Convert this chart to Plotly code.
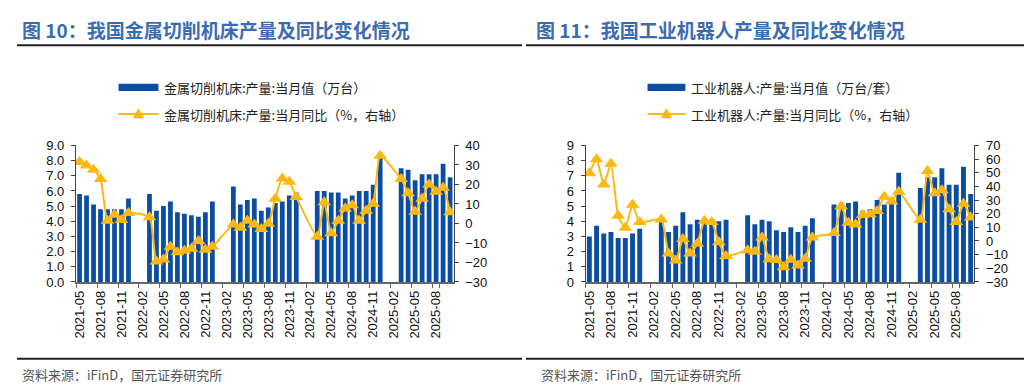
import plotly.graph_objects as go

# ---------------- data ----------------
months = []
for yr in range(2021, 2026):
    for m in range(1, 13):
        if (yr == 2021 and m < 5) or (yr == 2025 and m > 10):
            continue
        months.append(f"{yr}-{m:02d}")

tick_labels = [f"{y}-{m}" for y in range(2021, 2026) for m in ("02", "05", "08", "11")
               if "2021-05" <= f"{y}-{m}" <= "2025-08"]

N = None
machine_output = [5.8, 5.7, 5.1, 4.8, 4.8, 4.8, 4.8, 5.5,
                  N, N, 5.8, 4.7, 5.0, 5.3, 4.6, 4.5, 4.4, 4.3, 4.6, 5.3,
                  N, N, 6.3, 5.1, 5.4, 5.5, 4.7, 4.9, 5.2, 5.3, 5.7, 5.9,
                  N, N, 6.0, 6.0, 5.9, 5.9, 5.5, 5.7, 6.0, 6.0, 6.4, 8.2,
                  N, N, 7.5, 7.4, 6.7, 7.1, 7.1, 7.1, 7.8, 6.9]
machine_yoy = [31.5, 29.7, 27.5, 22.8, 1.4, 4.4, 1.7, 5.4,
               N, N, 3.2, -19.5, -18.5, -12.0, -14.8, -14.0, -13.0, -9.0, -13.5, -12.0,
               N, N, -0.6, -2.2, 1.4, -0.6, -2.8, -0.2, 12.6, 23.1, 21.4, 13.6,
               N, N, -6.8, 10.9, -5.0, 1.4, 7.7, 9.3, 1.4, 6.5, 10.1, 34.7,
               N, N, 22.8, 15.5, 6.0, 12.6, 20.0, 16.2, 18.3, 5.7]
robot_output = [3.0, 3.7, 3.2, 3.3, 2.9, 2.9, 3.2, 3.5,
                N, N, 4.2, 3.3, 3.7, 4.6, 3.8, 4.1, 4.0, 3.9, 4.0, 4.1,
                N, N, 4.4, 3.8, 4.1, 4.0, 3.4, 3.3, 3.6, 3.3, 3.7, 4.2,
                N, N, 5.1, 5.0, 5.2, 5.3, 4.7, 4.8, 5.4, 5.1, 5.3, 7.2,
                N, N, 6.2, 6.9, 6.9, 7.5, 6.4, 6.4, 7.6, 5.8]
robot_yoy = [49.6, 59.9, 41.4, 56.6, 18.4, 9.7, 26.6, 13.9,
             N, N, 15.8, -9.1, -14.3, 1.5, -9.1, -2.1, 14.8, 13.9, -0.9, -11.0,
             N, N, -6.8, -7.9, 2.6, -13.3, -14.0, -19.2, -13.8, -18.0, -13.1, 2.6,
             N, N, 5.9, 25.4, 13.4, 12.0, 19.1, 19.5, 21.9, 32.4, 28.9, 36.0,
             N, N, 15.5, 51.2, 35.0, 37.1, 23.3, 13.9, 27.3, 17.2]

titles = ["图 10：我国金属切削机床产量及同比变化情况", "图 11：我国工业机器人产量及同比变化情况"]
legend_bar = ["金属切削机床:产量:当月值（万台）", "工业机器人:产量:当月值（万台/套）"]
legend_line = ["金属切削机床:产量:当月同比（%，右轴）", "工业机器人:产量:当月同比（%，右轴）"]
source = "资料来源：iFinD，国元证券研究所"

# ---------------- style ----------------
W, H = 1032, 387
BAR = "#0B4DA5"
GOLD = "#FDB913"
TITLE_C = "#3B6CB2"
FONT = "Arial, Liberation Sans, sans-serif"
CJK = "Noto Sans CJK SC"

def px(x):
    return x / W

def py(y):
    return 1 - y / H

fig = go.Figure()

fig.add_trace(go.Bar(x=months, y=machine_output, marker_color=BAR, marker_line_width=0,
                     xaxis="x", yaxis="y", showlegend=False))
fig.add_trace(go.Scatter(x=months, y=machine_yoy, mode="lines+markers", connectgaps=True,
                         line=dict(color=GOLD, width=2, shape="spline", smoothing=0.5),
                         marker=dict(symbol="triangle-up", size=12, color=GOLD),
                         xaxis="x", yaxis="y2", showlegend=False))
fig.add_trace(go.Bar(x=months, y=robot_output, marker_color=BAR, marker_line_width=0,
                     xaxis="x2", yaxis="y3", showlegend=False))
fig.add_trace(go.Scatter(x=months, y=robot_yoy, mode="lines+markers", connectgaps=True,
                         line=dict(color=GOLD, width=2, shape="spline", smoothing=0.5),
                         marker=dict(symbol="triangle-up", size=12, color=GOLD),
                         xaxis="x2", yaxis="y4", showlegend=False))

ydom = [py(277.7), py(135.7)]
tickfont = dict(family=FONT, size=13, color="#111111")

def xax(dom, anchor):
    return dict(domain=dom, anchor=anchor, type="category", categoryorder="array",
                categoryarray=months, range=[-0.5, len(months) - 0.5],
                tickmode="array", tickvals=tick_labels, ticktext=tick_labels,
                tickangle=-90, tickson="boundaries", ticks="outside", ticklen=4,
                tickcolor="#666666", showline=True, linecolor="#666666", linewidth=1.5,
                showgrid=False, zeroline=False, tickfont=tickfont, ticklabelstandoff=2)

def yax(anchor, rng, dtick, fmt, side="left", overlay=None):
    d = dict(anchor=anchor, range=rng, dtick=dtick, tick0=rng[0], tickformat=fmt, side=side,
             ticks="outside", ticklen=4, tickcolor="#444444", showline=True,
             linecolor="#444444", linewidth=1.2, showgrid=False, zeroline=False,
             tickfont=tickfont, ticklabelstandoff=4)
    if overlay:
        d["overlaying"] = overlay
    else:
        d["domain"] = ydom
    return d

fig.update_layout(
    width=W, height=H, autosize=False,
    margin=dict(l=0, r=0, t=0, b=0),
    paper_bgcolor="white", plot_bgcolor="white",
    bargap=0.32,
    xaxis=xax([px(64.3), px(443.3)], "y"),
    yaxis=yax("x", [0, 9], 1, ".1f"),
    yaxis2=yax("x", [-30, 40], 10, "d", side="right", overlay="y"),
    xaxis2=xax([px(576), px(966)], "y3"),
    yaxis3=yax("x2", [0, 9], 1, "d"),
    yaxis4=yax("x2", [-30, 70], 10, "d", side="right", overlay="y3"),
)

shapes = []
annotations = []
for i, off in enumerate([0, 516]):
    # title and rules
    annotations.append(dict(x=px(off + 8), y=py(15.5), xref="paper", yref="paper",
                            text=titles[i], showarrow=False, xanchor="left", yanchor="middle",
                            font=dict(family=CJK, size=19, color=TITLE_C, weight="bold")))
    x0 = off + 5 if i == 0 else off
    x1 = off + 512 if i == 0 else 1027
    shapes.append(dict(type="line", xref="paper", yref="paper", x0=px(x0), x1=px(x1),
                       y0=py(31.5), y1=py(31.5), line=dict(color="#222222", width=2)))
    shapes.append(dict(type="line", xref="paper", yref="paper", x0=px(x0), x1=px(x1),
                       y0=py(357.5), y1=py(357.5), line=dict(color="#222222", width=2)))
    annotations.append(dict(x=px(off + 8 + (5 if i else 0)), y=py(374), xref="paper", yref="paper",
                            text=source, showarrow=False, xanchor="left", yanchor="middle",
                            font=dict(family=CJK, size=13, color="#555555")))
    # manual legend
    lx0 = off + (107 if i == 0 else 122)
    lx1 = lx0 + 40 if i == 0 else lx0 + 38
    shapes.append(dict(type="rect", xref="paper", yref="paper", x0=px(lx0), x1=px(lx1),
                       y0=py(79), y1=py(71.5), fillcolor=BAR, line=dict(width=0)))
    shapes.append(dict(type="line", xref="paper", yref="paper", x0=px(lx0), x1=px(lx1),
                       y0=py(103), y1=py(103), line=dict(color=GOLD, width=2)))
    cx = (lx0 + lx1) / 2
    tri = f"M {px(cx - 6)} {py(107.5)} L {px(cx + 6)} {py(107.5)} L {px(cx)} {py(97)} Z"
    shapes.append(dict(type="path", xref="paper", yref="paper", path=tri,
                       fillcolor=GOLD, line=dict(width=0)))
    annotations.append(dict(x=px(lx1 + 4), y=py(75.5), xref="paper", yref="paper",
                            text=legend_bar[i], showarrow=False, xanchor="left", yanchor="middle",
                            font=dict(family=CJK, size=13, color="#222222")))
    annotations.append(dict(x=px(lx1 + 4), y=py(103), xref="paper", yref="paper",
                            text=legend_line[i], showarrow=False, xanchor="left", yanchor="middle",
                            font=dict(family=CJK, size=13, color="#222222")))

fig.update_layout(shapes=shapes, annotations=annotations)
fig.write_html("out.html")
